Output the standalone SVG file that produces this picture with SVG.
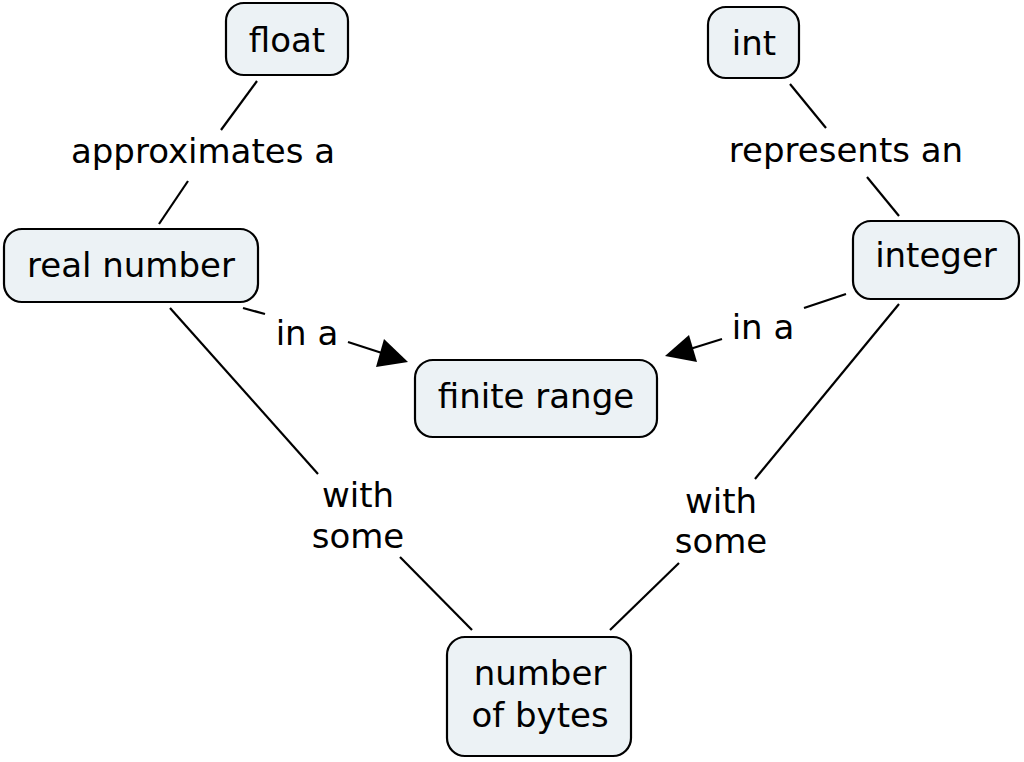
<svg xmlns="http://www.w3.org/2000/svg" width="1024" height="762" viewBox="0 0 1024 762">
<style>
.n rect{fill:#ECF2F5;stroke:#000;stroke-width:2.2}
text{font-family:"DejaVu Sans","Verdana",sans-serif;font-size:34px;fill:#000;text-anchor:middle}
.c line{stroke:#000;stroke-width:2.2}
.c path{fill:#000}
</style>
<rect width="1024" height="762" fill="#fff"/>
<g class="c" id="connectors">
<line x1="257" y1="81" x2="221" y2="130"/>
<line x1="188" y1="181" x2="159" y2="224"/>
<line x1="790" y1="84" x2="826" y2="128"/>
<line x1="867" y1="177" x2="899" y2="216"/>
<line x1="243" y1="308" x2="265" y2="314"/>
<line x1="348" y1="342" x2="385" y2="354"/>
<path d="M408,362 L376,367 L384,339 z"/>
<line x1="846" y1="294" x2="804" y2="308"/>
<line x1="722" y1="339" x2="690" y2="349"/>
<path d="M665,356 L689,335 L697,362 z"/>
<line x1="170" y1="308" x2="318" y2="474"/>
<line x1="400" y1="557" x2="472" y2="630"/>
<line x1="899" y1="304" x2="755" y2="479"/>
<line x1="679" y1="563" x2="610" y2="630"/>
<text x="203" y="163">approximates a</text>
<text x="846" y="162">represents an</text>
<text x="307" y="345">in a</text>
<text x="763" y="339">in a</text>
<text x="358" y="507">with</text>
<text x="358" y="548">some</text>
<text x="721" y="513">with</text>
<text x="721" y="553">some</text>
</g>
<g class="n" id="float"><rect x="226" y="3" width="122" height="72" rx="18"/><text x="287" y="52">float</text></g>
<g class="n" id="int"><rect x="708" y="7" width="91" height="71" rx="18"/><text x="754" y="55">int</text></g>
<g class="n" id="real-number"><rect x="4" y="229" width="254" height="73" rx="18"/><text x="131" y="277">real number</text></g>
<g class="n" id="integer"><rect x="853" y="221" width="166" height="78" rx="18"/><text x="936" y="267">integer</text></g>
<g class="n" id="finite-range"><rect x="415" y="360" width="242" height="77" rx="18"/><text x="536" y="408">finite range</text></g>
<g class="n" id="number-of-bytes"><rect x="447" y="637" width="184" height="119" rx="18"/><text x="540" y="685">number</text><text x="540" y="727">of bytes</text></g>
</svg>
